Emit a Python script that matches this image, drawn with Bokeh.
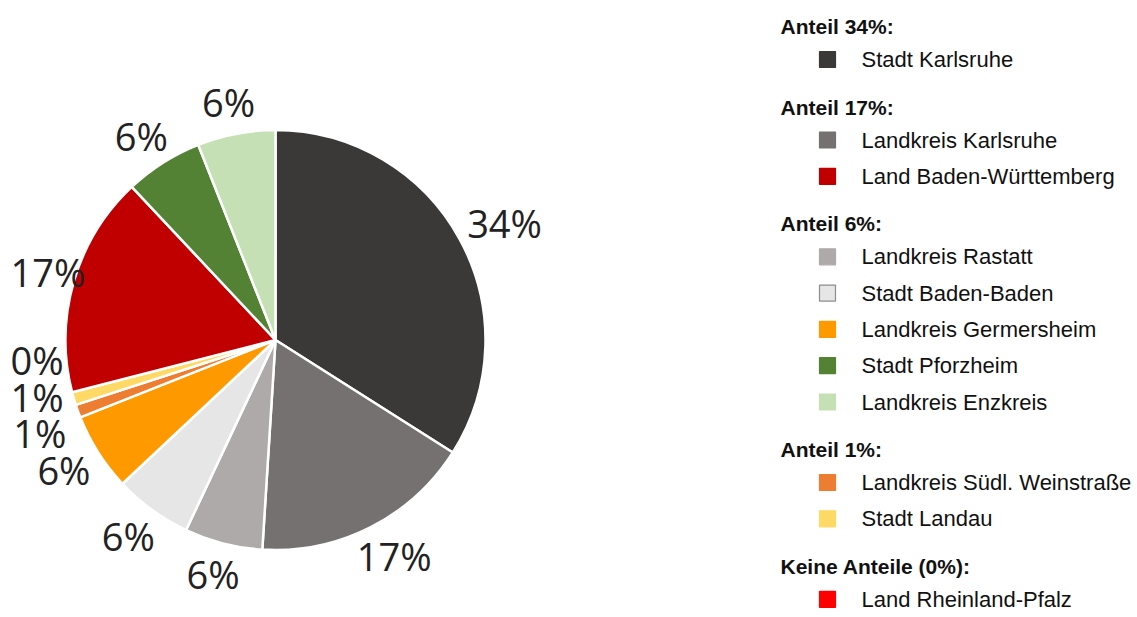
import math
from bokeh.plotting import figure
from bokeh.models import ColumnDataSource, Range1d
from bokeh.core.properties import value
from bokeh.embed import file_html
from bokeh.resources import INLINE

# ---- data (pie order, clockwise from 12 o'clock) ----
names = ["Stadt Karlsruhe", "Landkreis Karlsruhe", "Landkreis Rastatt",
         "Stadt Baden-Baden", "Landkreis Germersheim",
         "Landkreis Südl. Weinstraße", "Stadt Landau",
         "Land Rheinland-Pfalz", "Land Baden-Württemberg",
         "Stadt Pforzheim", "Landkreis Enzkreis"]
shares = [34, 17, 6, 6, 6, 1, 1, 0, 17, 6, 6]
colors = ["#3b3838", "#757171", "#aeaaaa", "#e7e6e6", "#ff9900",
          "#ed7d31", "#ffd966", "#ff0000", "#c00000", "#548235", "#c5e0b4"]
edge_colors = ["#3b3838", "#757171", "#aeaaaa", "#8c8c8c", "#ff9900",
               "#ed7d31", "#ffd966", "#ff0000", "#c00000", "#548235", "#c5e0b4"]

W, H = 1137, 617
p = figure(width=W, height=H, x_range=Range1d(0, W), y_range=Range1d(0, H),
           output_backend="svg", toolbar_location=None, min_border=0,
           x_axis_location=None, y_axis_location=None)
p.grid.visible = False
p.outline_line_color = None
p.background_fill_color = "white"
p.border_fill_color = "white"

# ---- pie ----
cx, cy, R = 275, 277.5, 210
total = sum(shares)
cum = 0.0
ws = dict(start=[], end=[], color=[])
mids = []
for v, c in zip(shares, colors):
    t1 = cum / total * 2 * math.pi
    cum += v
    t2 = cum / total * 2 * math.pi
    mids.append((t1 + t2) / 2)
    if v > 0:
        ws["start"].append(math.pi / 2 - t2)
        ws["end"].append(math.pi / 2 - t1)
        ws["color"].append(c)
p.wedge(x=cx, y=cy, radius=R, start_angle="start", end_angle="end",
        fill_color="color", line_color="white", line_width=2.5,
        source=ColumnDataSource(ws))

# ---- data labels (outside end): box edge anchored just outside the rim ----
FS = 38
labels = [f"{v}%" for v in shares]
RA = R + 14
lx, ly = [], []
for t, s in zip(mids, labels):
    w = FS * (0.572 * (len(s) - 1) + 0.825)
    h = FS * 0.95
    x = cx + RA * math.sin(t) + math.sin(t) * w / 2
    x = max(x, w / 2 + 10)          # keep inside the chart area
    lx.append(x)
    ly.append(cy + RA * math.cos(t) + math.cos(t) * h / 2)
gap = 36.5
small = [i for i, v in enumerate(shares) if v < 5]
if small:
    m = sum(ly[i] for i in small) / len(small)
    n = len(small)
    pos = [m + (k - (n - 1) / 2) * gap for k in range(n)]
    lo = ly[small[0] - 1] + gap
    hi = ly[small[-1] + 1] - gap
    shift = 0
    if pos[0] < lo:
        shift = lo - pos[0]
    elif pos[-1] > hi:
        shift = hi - pos[-1]
    for k, i in enumerate(small):
        ly[i] = pos[k] + shift
p.text(x=lx, y=ly, text=labels, text_align="center",
       text_baseline="middle", text_font=value("Open Sans"),
       text_font_size=f"{FS}px", text_color="#222222")

# ---- legend grouped by share ----
order = sorted(range(len(shares)), key=lambda i: -shares[i])
hx, sqx, tx = 780, 827, 861
y = H - 26
step_item, head_to_item, item_to_head = 36.3, 33, 47.5
hdr = dict(x=[], y=[], t=[])
it = dict(x=[], y=[], t=[], c=[], e=[])
prev = None
for i in order:
    v = shares[i]
    if v != prev:
        if prev is not None:
            y -= item_to_head
        hdr["x"].append(hx); hdr["y"].append(y)
        hdr["t"].append(f"Anteil {v}%:" if v > 0 else "Keine Anteile (0%):")
        y -= head_to_item
        prev = v
    else:
        y -= step_item
    it["x"].append(tx); it["y"].append(y); it["t"].append(names[i])
    it["c"].append(colors[i]); it["e"].append(edge_colors[i])

p.text(x="x", y="y", text="t", source=ColumnDataSource(hdr),
       text_font=value("Liberation Sans"), text_font_style="bold",
       text_font_size="21px", text_baseline="middle", text_color="#111111")
isrc = ColumnDataSource(it)
p.rect(x=sqx, y="y", width=16, height=16, fill_color="c", line_color="e",
       line_width=1.2, source=isrc)
p.text(x="x", y="y", text="t", source=isrc,
       text_font=value("Liberation Sans"), text_font_size="22px",
       text_baseline="middle", text_color="#111111")

open("out.html", "w").write(file_html(p, INLINE))
